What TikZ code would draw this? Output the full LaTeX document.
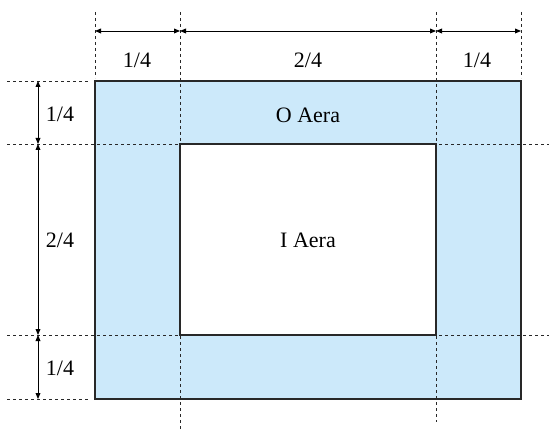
\documentclass[tikz,border=0pt]{standalone}
\usepackage{fontspec}
\setmainfont{Liberation Serif}
\usetikzlibrary{arrows.meta}
\definecolor{bleuzone}{RGB}{204,233,250}
\definecolor{gristrait}{RGB}{40,40,40}

\begin{document}
\begin{tikzpicture}[x=0.5pt, y=-0.5pt,
    every node/.style={inner sep=1pt, font=\fontsize{11}{13}\selectfont},
    cadre/.style={draw=gristrait, line width=0.6pt},
    repere/.style={draw=gristrait, dash pattern=on 1.6pt off 1.4pt, line width=0.45pt},
    cote/.style={draw=black, line width=0.45pt, {Triangle[length=3pt,width=2.4pt]}-{Triangle[length=3pt,width=2.4pt]}}]
    \useasboundingbox (0,0) rectangle (549,432);
    % définition des points
    \coordinate (A) at (95,81);   \coordinate (B) at (521,81);
    \coordinate (C) at (521,399); \coordinate (D) at (95,399);
    \coordinate (E) at (180,144); \coordinate (F) at (436,144);
    \coordinate (G) at (436,335); \coordinate (H) at (180,335);
    % extrémités des cotes
    \coordinate (T_1) at (95,31);  \coordinate (T_2) at (180,31);
    \coordinate (T_3) at (436,31); \coordinate (T_4) at (521,31);
    \coordinate (L_1) at (38,81);  \coordinate (L_2) at (38,144);
    \coordinate (L_3) at (38,335); \coordinate (L_4) at (38,399);
    % zones
    \fill[bleuzone] (A) rectangle (C);
    \fill[white] (E) rectangle (G);
    \draw[cadre] (A) rectangle (C);
    \draw[cadre] (E) rectangle (G);
    % lignes de rappel
    \draw[repere] (95,12) -- (95,78);
    \draw[repere] (521,12) -- (521,78);
    \draw[repere] (180,12) -- (180,430);
    \draw[repere] (436,12) -- (436,422);
    \draw[repere] (7,81) -- (90,81);
    \draw[repere] (7,399) -- (90,399);
    \draw[repere] (7,144) -- (549,144);
    \draw[repere] (7,335) -- (549,335);
    % cotes
    \draw[cote] (T_1) -- (T_2);
    \draw[cote] (T_2) -- (T_3);
    \draw[cote] (T_3) -- (T_4);
    \draw[cote] (L_1) -- (L_2);
    \draw[cote] (L_2) -- (L_3);
    \draw[cote] (L_3) -- (L_4);
    % étiquettes
    \node (h_1) at (137,60) {1/4};
    \node (h_2) at (308,60) {2/4};
    \node (h_3) at (477,60) {1/4};
    \node (v_1) at (60,114) {1/4};
    \node (v_2) at (60,240) {2/4};
    \node (v_3) at (60,368) {1/4};
    \node (O) at (308,115) {O Aera};
    \node (I) at (308,240) {I Aera};
  \end{tikzpicture}
\end{document}
